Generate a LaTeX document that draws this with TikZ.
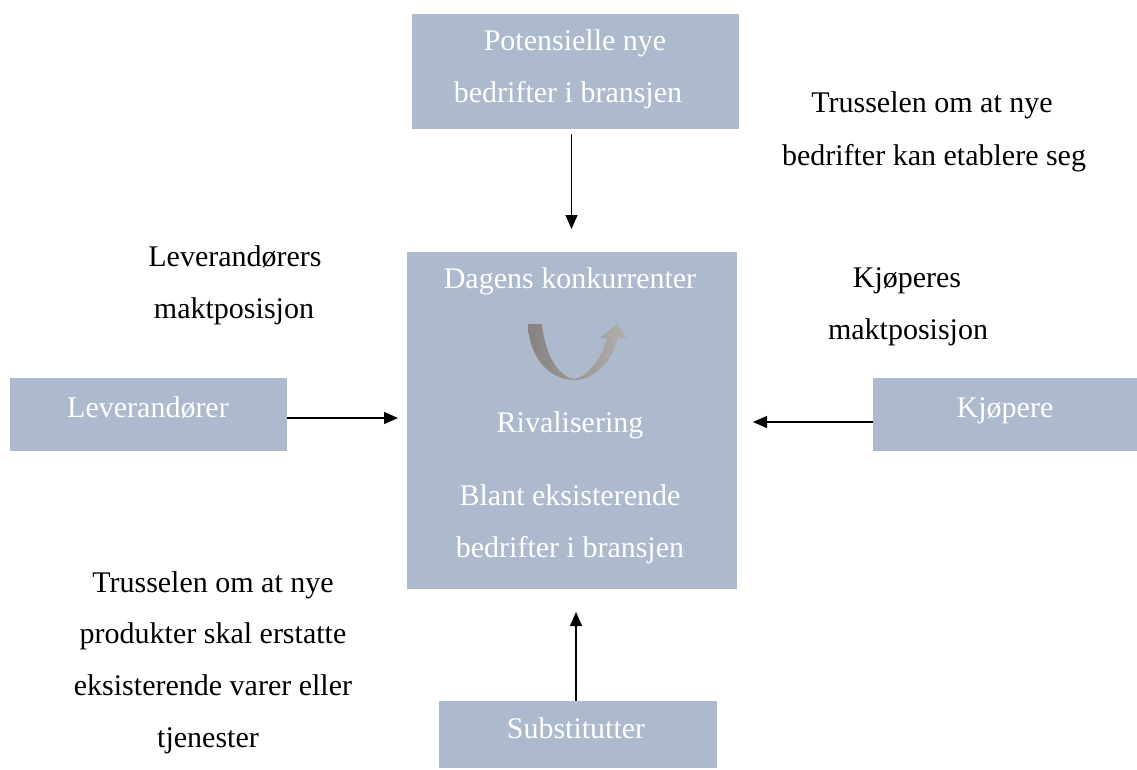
\documentclass[tikz,border=0pt]{standalone}
\usepackage{fontspec}
\setmainfont{Liberation Serif}
\usetikzlibrary{arrows.meta}
\definecolor{boxblue}{RGB}{173,185,204}
\definecolor{arrdark}{RGB}{134,130,128}
\definecolor{arrlight}{RGB}{178,174,171}
\begin{document}
\begin{tikzpicture}[x=1pt,y=-1pt,
  box/.style={fill=boxblue, draw=none, inner sep=0pt, outer sep=0pt},
  wt/.style={text=white, font=\fontsize{30}{36}\selectfont, anchor=base, inner sep=0pt},
  bt/.style={text=black, font=\fontsize{30}{36}\selectfont, anchor=base, inner sep=0pt},
  arr/.style={-{Triangle[length=14pt,width=12pt]}, line width=1.2pt}]
\useasboundingbox (0,0) rectangle (1137,769);

% boxes
\node[box, minimum width=327pt, minimum height=115pt] (pot) at (575.5,71.5) {};
\node[box, minimum width=330pt, minimum height=337pt] (cen) at (572,420.5) {};
\node[box, minimum width=277pt, minimum height=73pt] (lev) at (148.5,414.5) {};
\node[box, minimum width=264pt, minimum height=73pt] (kjo) at (1005,414.5) {};
\node[box, minimum width=278pt, minimum height=67pt] (sub) at (578,734.5) {};

% box texts
\node[wt] (pot1) at (575,50) {Potensielle nye};
\node[wt] (pot2) at (568,102) {bedrifter i bransjen};
\node[wt] (cen1) at (570,288) {Dagens konkurrenter};
\node[wt] (cen2) at (570,432) {Rivalisering};
\node[wt] (cen3) at (570,505) {Blant eksisterende};
\node[wt] (cen4) at (570,557) {bedrifter i bransjen};
\node[wt] (levt) at (148,417) {Leverandører};
\node[wt] (kjot) at (1005,417) {Kjøpere};
\node[wt] (subt) at (576,738) {Substitutter};

% outside texts
\node[bt] (tn1) at (932,112) {Trusselen om at nye};
\node[bt] (tn2) at (934,165) {bedrifter kan etablere seg};
\node[bt] (lm1) at (235,266) {Leverandørers};
\node[bt] (lm2) at (234,318) {maktposisjon};
\node[bt] (km1) at (907,287) {Kjøperes};
\node[bt] (km2) at (908,339) {maktposisjon};
\node[bt] (ts1) at (213,592) {Trusselen om at nye};
\node[bt] (ts2) at (213,643) {produkter skal erstatte};
\node[bt] (ts3) at (213,695) {eksisterende varer eller};
\node[bt] (ts4) at (208,747) {tjenester};

% curved arrow
\shade[left color=arrdark, right color=arrlight]
  (528,324) -- (542,324) .. controls (545,355) and (558,376) .. (574,379)
  .. controls (588,377) and (602,358) .. (607,338) -- (600,338) -- (617,324)
  -- (627,338) -- (618,338) .. controls (611,363) and (594,380) .. (574,380)
  .. controls (550,380) and (529,358) .. (528,324) -- cycle;

% connectors
\draw[arr, shorten <=5pt, shorten >=23pt] ([xshift=-4pt]pot.south) -- ([xshift=-0.5pt]cen.north);
\draw[arr, shorten >=9pt] ([yshift=-3.5pt]lev.east) -- ([yshift=-3.5pt]lev.east -| cen.west);
\draw[arr, shorten >=16pt] ([yshift=-7.5pt]kjo.west) -- ([yshift=-7.5pt]kjo.west -| cen.east);
\draw[arr, shorten >=23pt] ([xshift=-2pt]sub.north) -- ([xshift=-2pt]sub.north |- cen.south);
\end{tikzpicture}
\end{document}
